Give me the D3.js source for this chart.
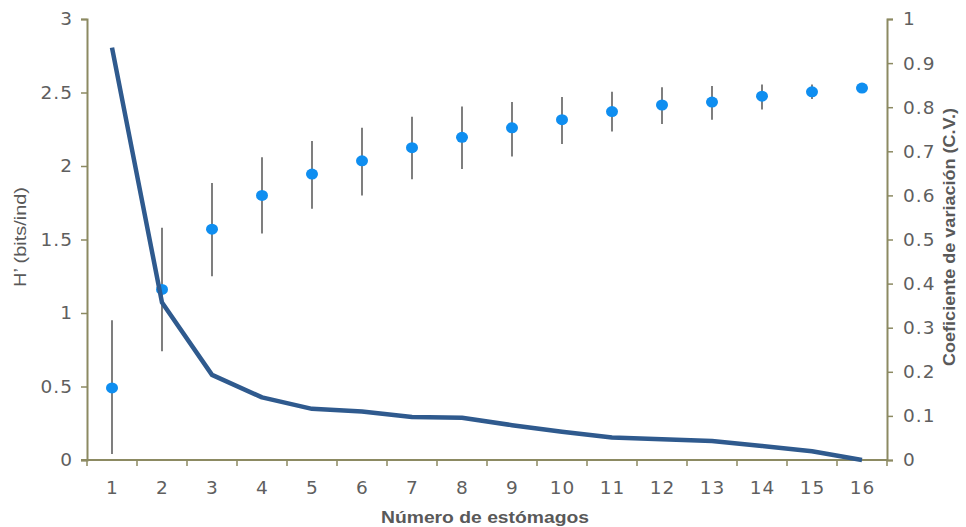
<!DOCTYPE html>
<html>
<head>
<meta charset="utf-8">
<script src="https://cdn.jsdelivr.net/npm/d3@7"></script>
<style>
  body { margin: 0; background: #fff; }
  .tick text { font-family: "DejaVu Sans", Verdana, sans-serif; font-size: 18.5px; fill: #5f5f5f; letter-spacing: 1px; }
  .axis-title { font-family: "Liberation Sans", Arial, sans-serif; font-size: 17px; fill: #595959; }
</style>
</head>
<body>
<svg id="chart" width="966" height="527"></svg>
<script>
// number of stomachs (x categories)
const stomachs = d3.range(1, 17);
// H' mean and error bar limits (left axis)
const hMean = [0.49, 1.16, 1.57, 1.80, 1.945, 2.035, 2.125, 2.195, 2.26, 2.315, 2.37, 2.415, 2.435, 2.475, 2.505, 2.53];
const hLow = [0.04, 0.74, 1.25, 1.54, 1.71, 1.80, 1.91, 1.98, 2.065, 2.15, 2.235, 2.285, 2.315, 2.385, 2.455, 2.53];
const hHigh = [0.95, 1.58, 1.885, 2.06, 2.17, 2.26, 2.335, 2.405, 2.435, 2.47, 2.505, 2.535, 2.545, 2.555, 2.555, 2.53];
// coefficient of variation (right axis)
const cv = [0.935, 0.357, 0.193, 0.142, 0.116, 0.110, 0.0975, 0.096, 0.079, 0.064, 0.051, 0.047, 0.043, 0.032, 0.020, 0.0];
const leftTicks = [0, 0.5, 1, 1.5, 2, 2.5, 3];
const rightTicks = d3.range(0, 11).map(d => d / 10);

const margin = { top: 19, right: 79, bottom: 67, left: 87 };
const width = 966, height = 527;
const svg = d3.select("#chart");
const axisColor = "#8c8a62";

const x = d3.scaleBand().domain(stomachs).range([margin.left, width - margin.right]);
const yLeft = d3.scaleLinear().domain([0, 3]).range([height - margin.bottom, margin.top]);
const yRight = d3.scaleLinear().domain([0, 1]).range([height - margin.bottom, margin.top]);

// bottom axis: ticks sit between categories
const gx = svg.append("g")
    .attr("transform", `translate(0,${height - margin.bottom})`)
    .call(d3.axisBottom(x).tickSize(0).tickPadding(21));
gx.select(".domain").remove();
gx.append("line")
    .attr("x1", margin.left - 6).attr("x2", width - margin.right)
    .attr("stroke", axisColor).attr("stroke-width", 2);
gx.selectAll("line.sep")
    .data(stomachs.concat([null]))
    .join("line")
    .attr("class", "sep")
    .attr("x1", (d, i) => margin.left + i * x.step())
    .attr("x2", (d, i) => margin.left + i * x.step())
    .attr("y1", 0).attr("y2", 6)
    .attr("stroke", axisColor).attr("stroke-width", 1.5);
gx.selectAll(".tick text").attr("dx", "0.5px");

const gl = svg.append("g")
    .attr("transform", `translate(${margin.left},0)`)
    .call(d3.axisLeft(yLeft).tickValues(leftTicks).tickSize(6).tickPadding(8).tickFormat(d3.format("")));
gl.select(".domain").attr("stroke", axisColor).attr("stroke-width", 2);
gl.selectAll(".tick line").attr("stroke", axisColor).attr("stroke-width", 1.5);

const gr = svg.append("g")
    .attr("transform", `translate(${width - margin.right},0)`)
    .call(d3.axisRight(yRight).tickValues(rightTicks).tickSize(6).tickPadding(10).tickFormat(d3.format("")));
gr.select(".domain").attr("stroke", axisColor).attr("stroke-width", 2);
gr.selectAll(".tick line").attr("stroke", axisColor).attr("stroke-width", 1.5);

const cx = d => x(d) + x.bandwidth() / 2;

// error bars
svg.append("g").selectAll("line")
    .data(stomachs)
    .join("line")
    .attr("x1", cx).attr("x2", cx)
    .attr("y1", (d, i) => yLeft(hLow[i]))
    .attr("y2", (d, i) => yLeft(hHigh[i]))
    .attr("stroke", "#3a3a3a").attr("stroke-width", 1.3);

// H' points
svg.append("g").selectAll("ellipse")
    .data(stomachs)
    .join("ellipse")
    .attr("cx", cx)
    .attr("cy", (d, i) => yLeft(hMean[i]))
    .attr("rx", 6).attr("ry", 5.5)
    .attr("fill", "#0f8ef0");

// CV line
svg.append("path")
    .datum(stomachs)
    .attr("fill", "none")
    .attr("stroke", "#2f5a8e")
    .attr("stroke-width", 4.5)
    .attr("stroke-linejoin", "round")
    .attr("d", d3.line().x(cx).y((d, i) => yRight(cv[i])));

// axis titles
svg.append("text")
    .attr("class", "axis-title")
    .attr("transform", "translate(26,237) rotate(-90)")
    .attr("text-anchor", "middle")
    .attr("textLength", 100)
    .attr("lengthAdjust", "spacingAndGlyphs")
    .text("H’ (bits/ind)");

svg.append("text")
    .attr("class", "axis-title")
    .attr("transform", "translate(955,237) rotate(-90)")
    .attr("text-anchor", "middle")
    .attr("font-weight", "bold")
    .attr("textLength", 258)
    .attr("lengthAdjust", "spacingAndGlyphs")
    .text("Coeficiente de variación (C.V.)");

svg.append("text")
    .attr("class", "axis-title")
    .attr("x", 485)
    .attr("y", 523)
    .attr("text-anchor", "middle")
    .attr("font-weight", "bold")
    .attr("textLength", 208)
    .attr("lengthAdjust", "spacingAndGlyphs")
    .text("Número de estómagos");
</script>
</body>
</html>
